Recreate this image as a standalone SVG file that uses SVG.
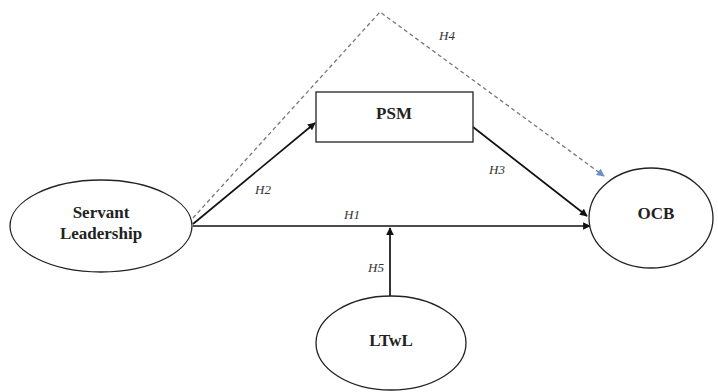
<svg xmlns="http://www.w3.org/2000/svg" width="718" height="392" viewBox="0 0 718 392">
<style>
.node{fill:#fff;stroke:#222;stroke-width:1.3}
.t{font-family:"Liberation Serif",serif;font-weight:bold;font-size:17px;fill:#222;text-anchor:middle}
.lab{font-family:"Liberation Serif",serif;font-style:italic;font-size:13px;fill:#333;text-anchor:middle}
.c{fill:none;stroke:#111;stroke-width:1.7}
.d{fill:none;stroke:#777;stroke-width:1.3;stroke-dasharray:4,3}
</style>
<defs>
<marker id="ah" viewBox="0 0 10 10" refX="9" refY="5" markerWidth="5" markerHeight="4.5" orient="auto"><path d="M0,0L10,5L0,10z" fill="#111"/></marker>
<marker id="ahb" viewBox="0 0 10 10" refX="9" refY="5" markerWidth="7" markerHeight="6" orient="auto"><path d="M0,0L10,5L0,10z" fill="#6a8ec8"/></marker>
</defs>
<rect width="718" height="392" fill="#fff"/>
<g id="connectors">
<path class="d" d="M193,218L380,12L604,176" marker-end="url(#ahb)"/>
<path class="c" d="M193,224L315,123" marker-end="url(#ah)"/>
<path class="c" d="M473,127L587,216" marker-end="url(#ah)"/>
<path class="c" d="M193,226L590,226" marker-end="url(#ah)"/>
<path class="c" d="M390,296L390,228" marker-end="url(#ah)"/>
<text class="lab" x="447" y="40">H4</text>
<text class="lab" x="263" y="194">H2</text>
<text class="lab" x="497" y="174">H3</text>
<text class="lab" x="352" y="219">H1</text>
<text class="lab" x="376" y="272">H5</text>
</g>
<g id="servant"><ellipse class="node" cx="101" cy="226" rx="91" ry="46"/><text class="t" x="101" y="218">Servant</text><text class="t" x="101" y="239">Leadership</text></g>
<g id="psm"><rect class="node" x="316" y="92" width="157" height="50"/><text class="t" x="394" y="119">PSM</text></g>
<g id="ocb"><ellipse class="node" cx="651" cy="218" rx="62" ry="50"/><text class="t" x="656" y="219">OCB</text></g>
<g id="ltwl"><ellipse class="node" cx="391" cy="343" rx="75" ry="47"/><text class="t" x="391" y="346">LTwL</text></g>
</svg>
